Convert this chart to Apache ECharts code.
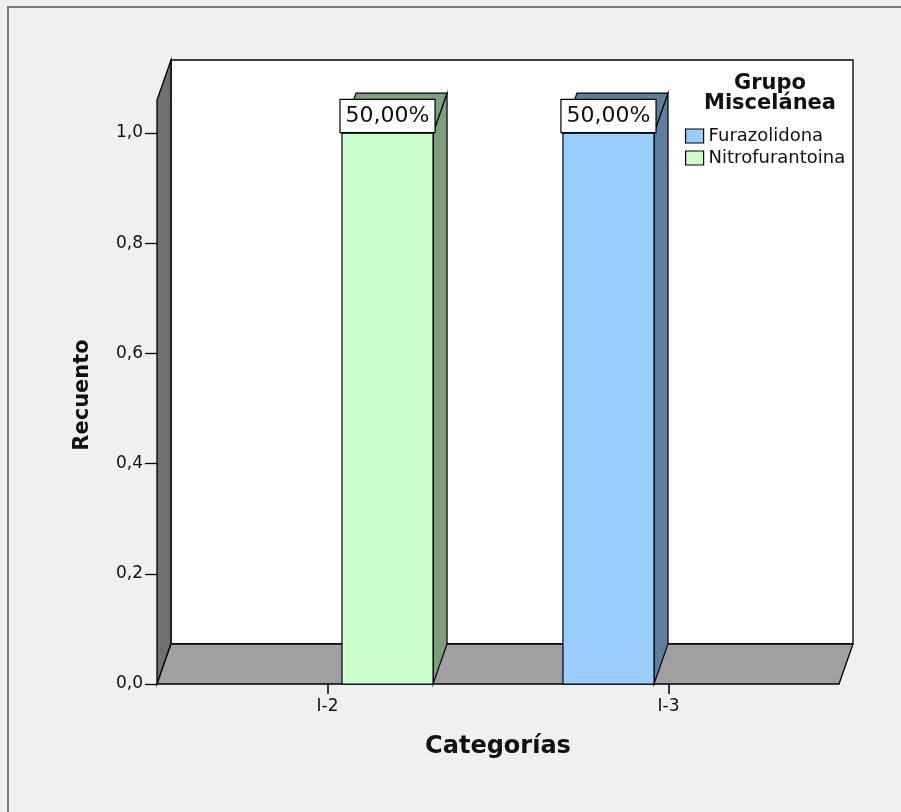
<!DOCTYPE html>
<html>
<head>
<meta charset="utf-8">
<title>Recuento por Categorías</title>
<script src="https://cdn.jsdelivr.net/npm/echarts@6/dist/echarts.min.js"></script>
<style>
  html, body { margin: 0; padding: 0; background: #f0f0f0; }
  #chart { width: 901px; height: 812px; }
</style>
</head>
<body>
<div id="chart"></div>
<script>
// Counts per category for each drug of the group
const categories = ['I-2', 'I-3'];
const furazolidona = [0, 1];
const nitrofurantoina = [1, 0];
const yTicks = [0, 0.2, 0.4, 0.6, 0.8, 1.0];
const yMax = 1.06;

// 3D look: depth shift of the box and bars, bar sizes relative to the band
const DEPTH_X = 14;
const DEPTH_Y = -40;
const BAR_RATIO = 0.267;
const GAP_RATIO = 0.085;
const FONT = '"DejaVu Sans", sans-serif';

const total = furazolidona.concat(nitrofurantoina).reduce((a, b) => a + b, 0);
const pct = v => (v / total * 100).toFixed(2).replace('.', ',') + '%';

function renderBox(params) {
  const cs = params.coordSys;
  const x0 = cs.x, x1 = cs.x + cs.width;
  const yT = cs.y, yB = cs.y + cs.height;
  const line = { stroke: '#000', lineWidth: 1.3 };
  return {
    type: 'group',
    children: [
      { type: 'rect', shape: { x: x0 + DEPTH_X, y: yT + DEPTH_Y, width: x1 - x0, height: yB - yT },
        style: Object.assign({ fill: '#ffffff' }, line) },
      { type: 'polygon', shape: { points: [[x0, yT], [x0 + DEPTH_X, yT + DEPTH_Y], [x0 + DEPTH_X, yB + DEPTH_Y], [x0, yB]] },
        style: Object.assign({ fill: '#707070' }, line) },
      { type: 'polygon', shape: { points: [[x0, yB], [x1, yB], [x1 + DEPTH_X, yB + DEPTH_Y], [x0 + DEPTH_X, yB + DEPTH_Y]] },
        style: Object.assign({ fill: '#a0a0a0' }, line) }
    ]
  };
}

function makeBarRenderer(slot, front, side) {
  return function (params, api) {
    const v = api.value(1);
    if (!v) return null;
    const cat = api.value(0);
    const base = api.coord([cat, 0]);
    const topY = api.coord([cat, v])[1];
    const band = api.size([1, 0])[0];
    const w = band * BAR_RATIO;
    const gap = band * GAP_RATIO;
    const bx = slot === 0 ? base[0] - gap / 2 - w : base[0] + gap / 2;
    const botY = base[1];
    const line = { stroke: '#000', lineWidth: 1.2 };
    return {
      type: 'group',
      children: [
        { type: 'polygon', shape: { points: [[bx + w, topY], [bx + w + DEPTH_X, topY + DEPTH_Y], [bx + w + DEPTH_X, botY + DEPTH_Y], [bx + w, botY]] },
          style: Object.assign({ fill: side }, line) },
        { type: 'polygon', shape: { points: [[bx, topY], [bx + DEPTH_X, topY + DEPTH_Y], [bx + w + DEPTH_X, topY + DEPTH_Y], [bx + w, topY]] },
          style: Object.assign({ fill: side }, line) },
        { type: 'rect', shape: { x: bx, y: topY, width: w, height: botY - topY },
          style: Object.assign({ fill: front }, line) },
        { type: 'text', x: bx + w / 2, y: topY - 1,
          style: {
            text: pct(v), fill: '#111', fontSize: 22, fontFamily: FONT,
            align: 'center', verticalAlign: 'bottom', lineHeight: 24,
            backgroundColor: '#ffffff', borderColor: '#000', borderWidth: 1.2,
            padding: [4, 5, 4, 5]
          } }
      ]
    };
  };
}

const toData = arr => categories.map((c, i) => [i, arr[i]]);

const chart = echarts.init(document.getElementById('chart'), null, { renderer: 'canvas' });
chart.setOption({
  backgroundColor: '#f0f0f0',
  animation: false,
  graphic: [{
    type: 'rect', z: -10, silent: true,
    shape: { x: 8, y: 7, width: 1200, height: 1200 },
    style: { fill: 'none', stroke: '#7a7a7a', lineWidth: 2 }
  }],
  title: {
    text: 'Grupo\nMiscelánea',
    left: 765, top: 69, textAlign: 'center',
    textStyle: { fontFamily: FONT, fontSize: 21, fontWeight: 'bold', color: '#111', lineHeight: 20 }
  },
  legend: {
    data: ['Furazolidona', 'Nitrofurantoina'],
    orient: 'vertical',
    left: 685, top: 127, padding: 0,
    icon: 'rect', itemWidth: 18, itemHeight: 14, itemGap: 4,
    itemStyle: { borderColor: '#000', borderWidth: 1.2 },
    textStyle: { fontFamily: FONT, fontSize: 18, color: '#111', lineHeight: 17 }
  },
  grid: { left: 157, right: 62, top: 100, bottom: 128, containLabel: false },
  xAxis: {
    type: 'category',
    data: categories,
    boundaryGap: true,
    name: 'Categorías',
    nameLocation: 'middle',
    nameGap: 51,
    nameTextStyle: { fontFamily: FONT, fontSize: 24, fontWeight: 'bold', color: '#111' },
    axisLine: { show: false },
    axisTick: { show: true, alignWithLabel: true, length: 10, lineStyle: { color: '#000', width: 1.5 } },
    axisLabel: { margin: 14, fontFamily: FONT, fontSize: 17, color: '#111' },
    splitLine: { show: false }
  },
  yAxis: {
    type: 'value',
    min: 0, max: yMax, interval: 0.2,
    name: 'Recuento',
    nameLocation: 'middle',
    nameGap: 64,
    nameTextStyle: { fontFamily: FONT, fontSize: 21, fontWeight: 'bold', color: '#111', padding: [0, 0, 0, -6] },
    axisLine: { show: false },
    axisTick: { show: true, length: 12, customValues: yTicks, lineStyle: { color: '#000', width: 1.3 } },
    axisLabel: {
      margin: 14, fontFamily: FONT, fontSize: 17, color: '#111',
      customValues: yTicks,
      formatter: v => v.toFixed(1).replace('.', ',')
    },
    splitLine: { show: false }
  },
  series: [
    {
      type: 'custom', name: 'box', silent: true, z: 1,
      data: [[0, 0]],
      renderItem: renderBox
    },
    {
      type: 'custom', name: 'Furazolidona', z: 2,
      itemStyle: { color: '#99ccff' },
      encode: { x: 0, y: 1 },
      data: toData(furazolidona),
      renderItem: makeBarRenderer(0, '#99ccff', '#5f7f9f')
    },
    {
      type: 'custom', name: 'Nitrofurantoina', z: 2,
      itemStyle: { color: '#ccffcc' },
      encode: { x: 0, y: 1 },
      data: toData(nitrofurantoina),
      renderItem: makeBarRenderer(1, '#ccffcc', '#7f9f7f')
    }
  ]
});
</script>
</body>
</html>
